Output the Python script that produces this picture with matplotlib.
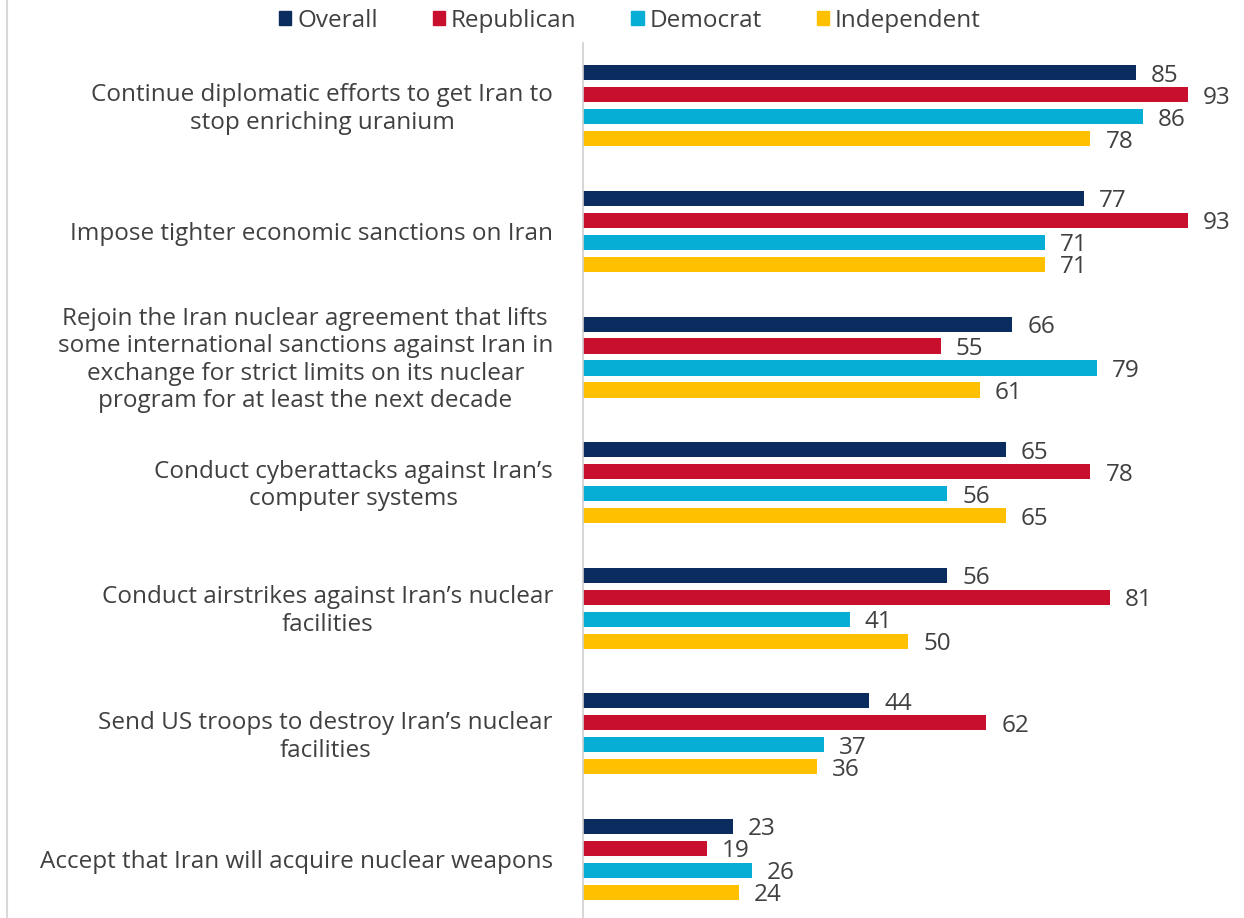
import numpy as np
import matplotlib.pyplot as plt
from matplotlib.lines import Line2D

plt.rcParams['font.family'] = ['Open Sans', 'DejaVu Sans']

# Survey items and support (%) by group
items = [
    "Continue diplomatic efforts to get Iran to\nstop enriching uranium",
    "Impose tighter economic sanctions on Iran",
    "Rejoin the Iran nuclear agreement that lifts\nsome international sanctions against Iran in\nexchange for strict limits on its nuclear\nprogram for at least the next decade",
    "Conduct cyberattacks against Iran\u2019s\ncomputer systems",
    "Conduct airstrikes against Iran\u2019s nuclear\nfacilities",
    "Send US troops to destroy Iran\u2019s nuclear\nfacilities",
    "Accept that Iran will acquire nuclear weapons",
]
series = ["Overall", "Republican", "Democrat", "Independent"]
overall = [85, 77, 66, 65, 56, 44, 23]
republican = [93, 93, 55, 78, 81, 62, 19]
democrat = [86, 71, 79, 56, 41, 37, 26]
independent = [78, 71, 61, 65, 50, 36, 24]

colors = ["#0a2c5e", "#c8102e", "#06aed5", "#ffc000"]
text_color = "#404040"
fs = 17.5

W, H = 1244, 918
fig = plt.figure(figsize=(W / 100, H / 100), dpi=100)
ax_left, ax_top = 583 / W, 1 - 43 / H
ax = fig.add_axes([ax_left, 0, 1 - ax_left, ax_top])

y = np.arange(len(items))
step = 0.175
height = 0.12
for k, (vals, col) in enumerate(zip([overall, republican, democrat, independent], colors)):
    pos = y + (k - 1.5) * step
    ax.barh(pos, vals, height=height, color=col)
    for p, v in zip(pos, vals):
        ax.annotate(str(v), xy=(v, p), xytext=(15, -3), textcoords='offset pixels',
                    va='center', ha='left', fontsize=fs, color=text_color)

ax.set_xlim(0, 101.6)
ax.set_ylim(6.966 - 0.5, -0.5)
ax.set_xticks([])
ax.set_yticks([])
for s in ['top', 'right', 'bottom']:
    ax.spines[s].set_visible(False)
ax.spines['left'].set_color('#d0d0d0')
ax.spines['left'].set_linewidth(1.2)

# category labels to the left of the axis
for i, lab in enumerate(items):
    ax.annotate(lab, xy=(0, i), xytext=(-30, -3), textcoords='offset pixels',
                ha='right', va='center', multialignment='center',
                fontsize=fs, color=text_color, linespacing=1.2)

# thin border line at the far left
fig.add_artist(Line2D([7 / W, 7 / W], [0, 1], color='#d9d9d9', lw=1.5))

handles = [plt.Rectangle((0, 0), 1, 1, color=c) for c in colors]
fig.legend(handles, series, loc='center', bbox_to_anchor=(630 / W, 1 - 21 / H),
           ncol=4, frameon=False, fontsize=fs, handlelength=0.5, handleheight=0.5,
           handletextpad=0.25, columnspacing=2.25, labelcolor=text_color)

fig.savefig("out.png", dpi=100)
